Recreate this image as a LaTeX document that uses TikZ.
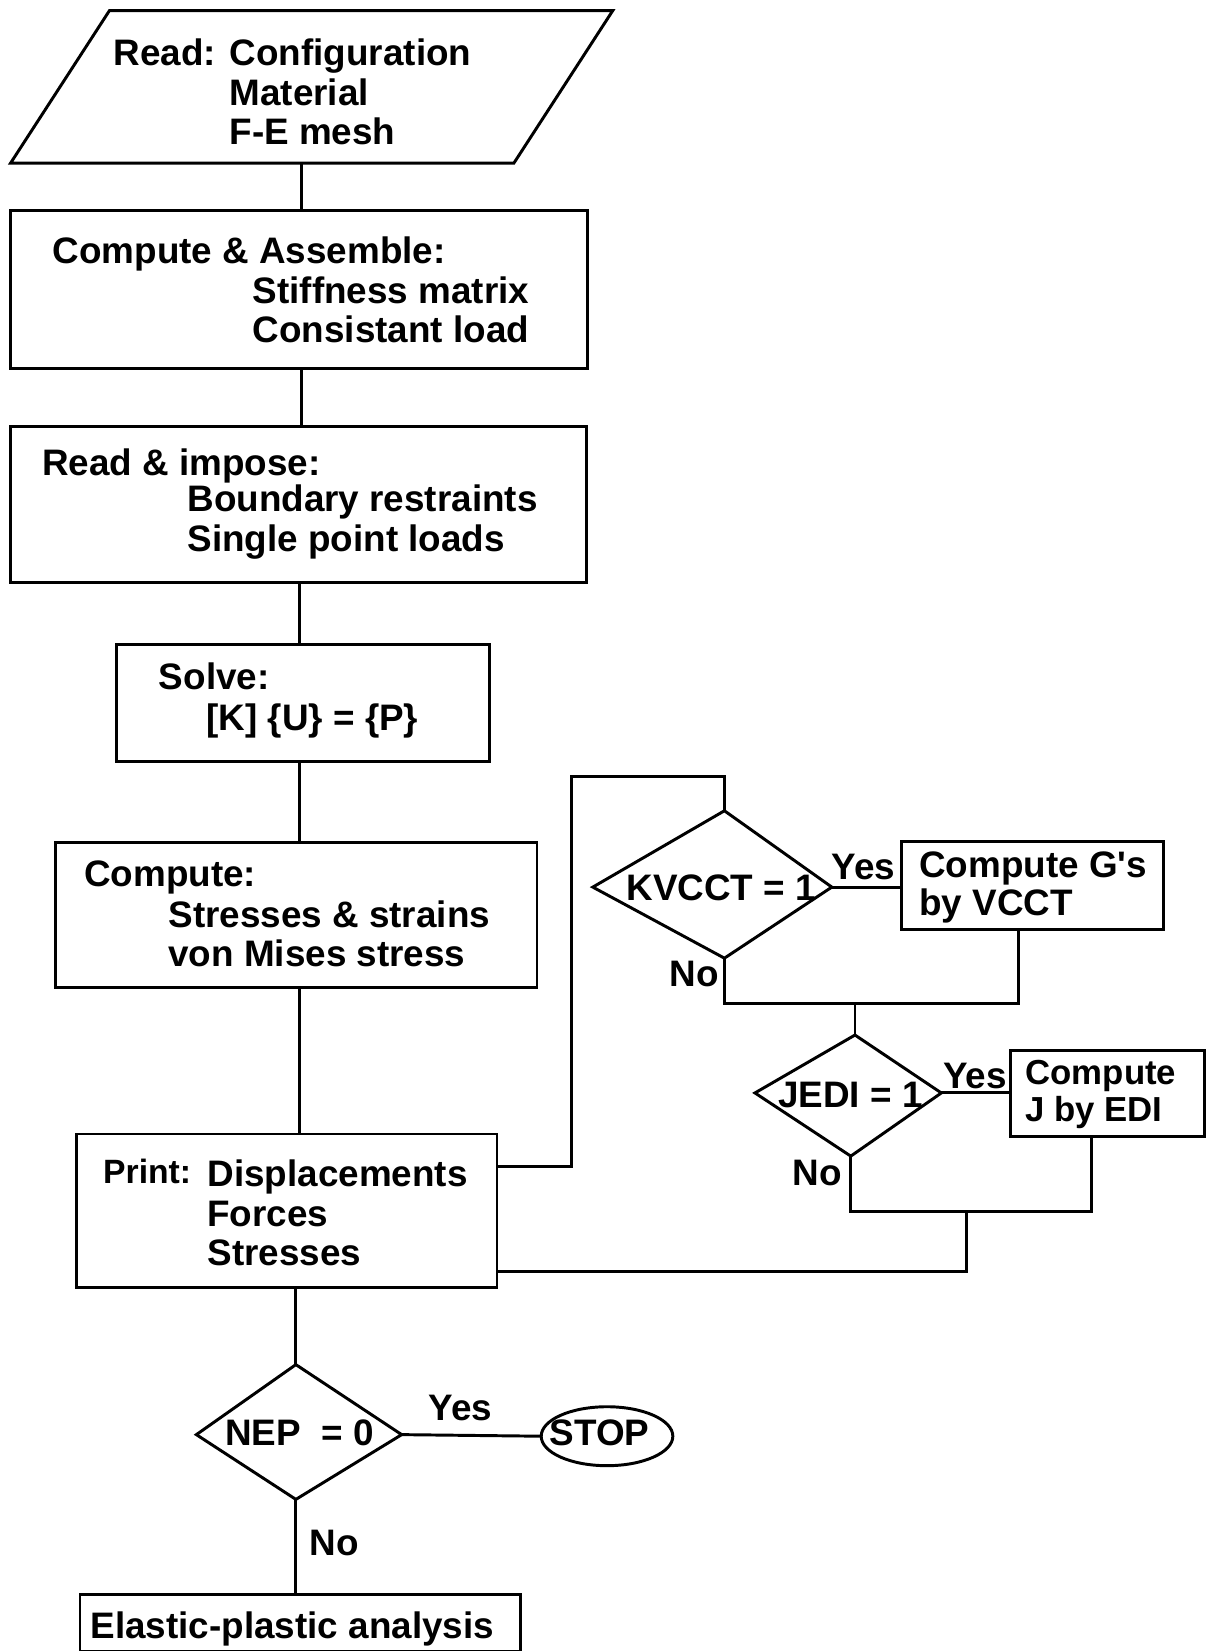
\documentclass[tikz,border=0pt]{standalone}
\usepackage{fontspec}
\setmainfont{Liberation Sans}
\usetikzlibrary{shapes.geometric}
\begin{document}
\begin{tikzpicture}[x=1pt,y=-1pt,
  wire/.style={line width=2.8pt, line join=miter},
  box/.style={draw, line width=2.8pt, rectangle, inner sep=0pt, outer sep=0pt},
  frame/.style={inner sep=0pt, outer sep=0pt},
  terminal/.style={draw, line width=2.8pt, ellipse, inner sep=0pt, outer sep=0pt},
  txt/.style={anchor=base west, inner sep=0pt, outer sep=0pt,
              font=\bfseries\fontsize{35}{40}\selectfont},
  smalltxt/.style={txt, font=\bfseries\fontsize{32}{38}\selectfont},
  boxtxt/.style={txt, font=\bfseries\fontsize{33}{38}\selectfont}]

\useasboundingbox (0,0) rectangle (1146,1568);

% ---------- input parallelogram ----------
\node[frame, minimum width=478pt, minimum height=145pt] (read) at (343,82.5) {};
\draw[wire] (read.north west) -- (read.north east) -- ([xshift=-94pt]read.south east)
            -- ([xshift=-94pt]read.south west) -- cycle;

% ---------- process boxes ----------
\node[box, minimum width=548pt, minimum height=150pt] (assemble) at (284,275) {};
\node[box, minimum width=547pt, minimum height=148pt] (impose)   at (283.5,479) {};
\node[box, minimum width=354pt, minimum height=111pt] (solve)    at (288,667.5) {};
\node[box, minimum width=457pt, minimum height=138pt] (stress)   at (281.5,869) {};
\node[box, minimum width=399pt, minimum height=146pt] (print)    at (272.5,1150) {};
\node[terminal, minimum width=125pt, minimum height=56pt] (stop) at (576.5,1364) {};
\node[box, minimum width=418pt, minimum height=54pt] (elastic)   at (285,1541) {};
\node[box, minimum width=249pt, minimum height=84pt] (vcct)      at (980.5,841) {};
\node[box, minimum width=184pt, minimum height=81pt] (edi)       at (1051.5,1038.5) {};

% ---------- decisions (hand-drawn, slightly lopsided diamonds) ----------
\node[frame, minimum width=227pt, minimum height=140pt] (kv) at (676.5,840) {};
\coordinate (kv-n) at (688,770);
\coordinate (kv-e) at (790,842.5);
\coordinate (kv-s) at (688,910);
\coordinate (kv-w) at (563,842.5);
\draw[wire] (kv-n) -- (kv-e) -- (kv-s) -- (kv-w) -- cycle;

\node[frame, minimum width=177pt, minimum height=115pt] (jedi) at (805.5,1040.5) {};
\coordinate (jedi-n) at (812,983);
\coordinate (jedi-e) at (894,1038);
\coordinate (jedi-s) at (808,1098);
\coordinate (jedi-w) at (717,1038);
\draw[wire] (jedi-n) -- (jedi-e) -- (jedi-s) -- (jedi-w) -- cycle;

\node[frame, minimum width=195pt, minimum height=128pt] (nep) at (284,1360) {};
\coordinate (nep-n) at (281,1296);
\coordinate (nep-e) at (381.5,1362.5);
\coordinate (nep-s) at (281,1424);
\coordinate (nep-w) at (186.5,1362.5);
\draw[wire] (nep-n) -- (nep-e) -- (nep-s) -- (nep-w) -- cycle;

% ---------- texts ----------
\node[txt] (t-read1) at (108,62)  {Read: Configuration};
\node[txt] (t-read2) at (218,100) {Material};
\node[txt] (t-read3) at (218,137) {F-E mesh};

\node[txt] (t-asm1) at (50,250)  {Compute \& Assemble:};
\node[txt] (t-asm2) at (240,288) {Stiffness matrix};
\node[txt] (t-asm3) at (240,325) {Consistant load};

\node[txt] (t-imp1) at (40,452)  {Read \& impose:};
\node[txt] (t-imp2) at (178,486) {Boundary restraints};
\node[txt] (t-imp3) at (178,524) {Single point loads};

\node[txt] (t-sol1) at (151,655) {Solve:};
\node[txt] (t-sol2) at (196,694) {[K] \{U\} = \{P\}};

\node[txt] (t-str1) at (80,842)  {Compute:};
\node[txt] (t-str2) at (160,881) {Stresses \& strains};
\node[txt] (t-str3) at (160,918) {von Mises stress};

\node[smalltxt] (t-prt0) at (98,1124) {Print:};
\node[txt] (t-prt1) at (197,1127) {Displacements};
\node[txt] (t-prt2) at (197,1165) {Forces};
\node[txt] (t-prt3) at (197,1202) {Stresses};

\node[txt] (t-kv)  at (595,855) {KVCCT = 1};
\node[txt] (t-gs1) at (873,833) {Compute G\textquotesingle s};
\node[txt] (t-gs2) at (873,869) {by VCCT};

\node[txt] (t-jedi) at (739,1052) {JEDI = 1};
\node[boxtxt] (t-edi1) at (974,1030) {Compute};
\node[boxtxt] (t-edi2) at (974,1065) {J by EDI};

\node[txt] (t-nep)  at (214,1373) {NEP\ \ = 0};
\node[txt] (t-stop) at (522,1373) {STOP};
\node[txt] (t-ela)  at (86,1556)  {Elastic-plastic analysis};

\node[txt] (yes-kv)   at (790,835)  {Yes};
\node[txt] (no-kv)    at (636,937)  {No};
\node[txt] (yes-jedi) at (896,1034) {Yes};
\node[txt] (no-jedi)  at (753,1126) {No};
\node[txt] (yes-nep)  at (407,1349) {Yes};
\node[txt] (no-nep)   at (294,1477) {No};

% ---------- connectors ----------
\coordinate (spineA) at (286,0);
\coordinate (spineB) at (284,0);
\draw[wire] (read.south -| spineA) -- (assemble.north -| spineA);
\draw[wire] (assemble.south -| spineA) -- (impose.north -| spineA);
\draw[wire] (impose.south -| spineB) -- (solve.north -| spineB);
\draw[wire] (solve.south -| spineB) -- (stress.north -| spineB);
\draw[wire] (stress.south -| spineB) -- (print.north -| spineB);
\draw[wire] (print.south -| nep-n) -- (nep-n);
\draw[wire] (nep-s) -- (elastic.north -| nep-s);
\draw[wire] (nep-e) -- (stop.west);

% loop into the fracture checks
\coordinate (loopR) at (543,1108);
\coordinate (loopT) at (543,737.5);
\draw[wire] (print.east |- loopR) -- (loopR) -- (loopT) -- (loopT -| kv-n) -- (kv-n);
\draw[wire] (kv-e) -- (kv-e -| vcct.west);

\coordinate (joinA) at (0,952.7);
\coordinate (gsOut) at (967,0);
\draw[wire] (kv-s) -- (kv-s |- joinA) -- (gsOut |- joinA) -- (gsOut |- vcct.south);
\draw[wire] (jedi-n |- joinA) -- (jedi-n);
\draw[wire] (jedi-e) -- (jedi-e -| edi.west);

\coordinate (joinB) at (0,1150.5);
\coordinate (ediOut) at (1036.6,0);
\coordinate (midB)  at (918,0);
\coordinate (backB) at (0,1207.5);
\draw[wire] (jedi-s) -- (jedi-s |- joinB) -- (ediOut |- joinB) -- (ediOut |- edi.south);
\draw[wire] (midB |- joinB) -- (midB |- backB) -- (print.east |- backB);

\end{tikzpicture}
\end{document}
